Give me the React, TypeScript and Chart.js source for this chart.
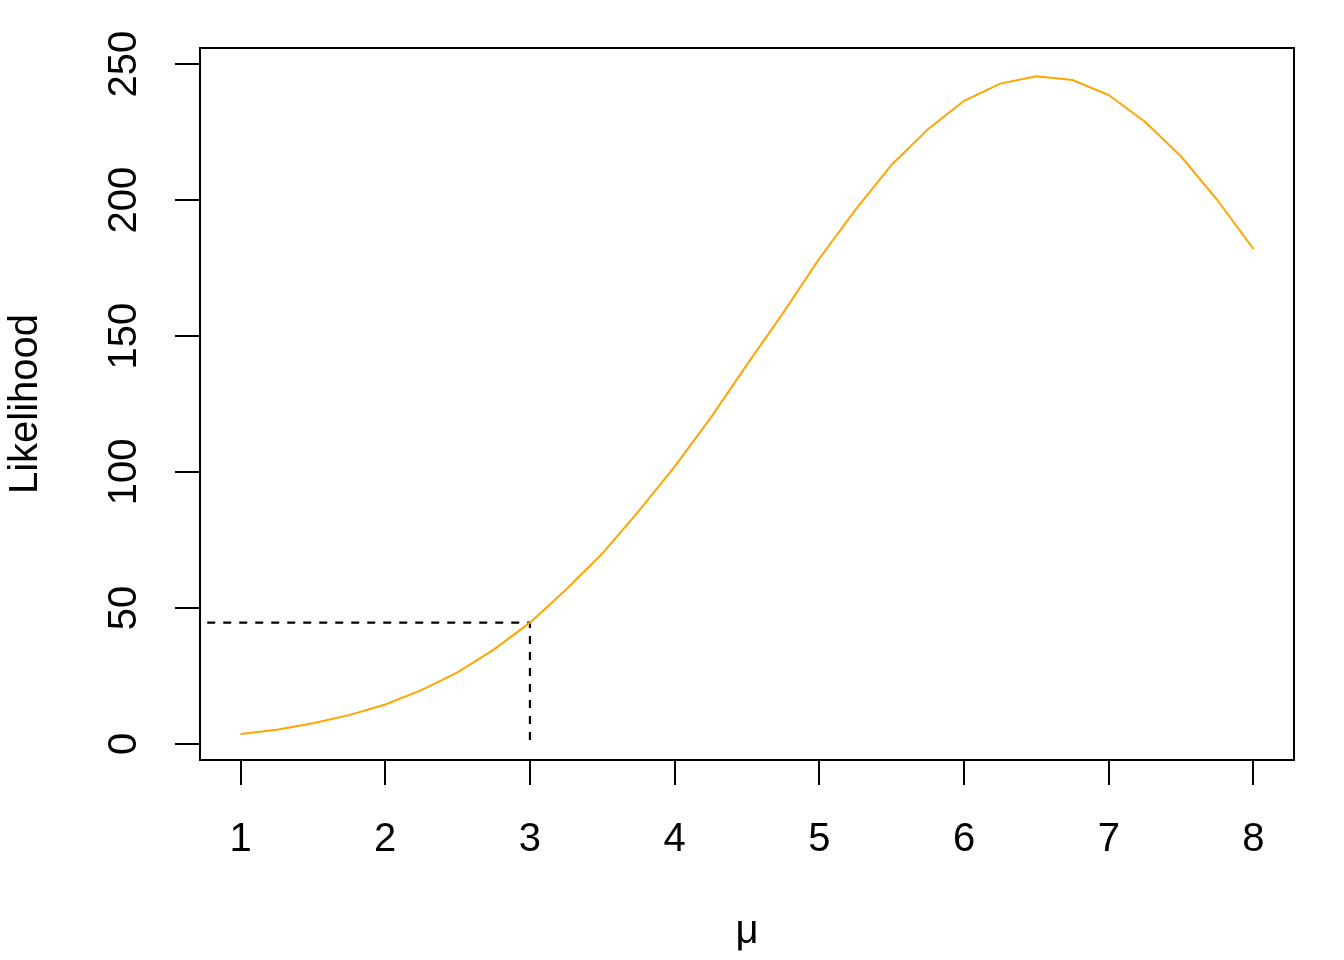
import { useEffect, useRef } from 'react';
import { Chart, registerables } from 'chart.js';

Chart.register(...registerables);

const muValues = [1, 1.25, 1.5, 1.75, 2, 2.25, 2.5, 2.75, 3, 3.25, 3.5, 3.75, 4, 4.25, 4.5, 4.75, 5, 5.25, 5.5, 5.75, 6, 6.25, 6.5, 6.75, 7, 7.25, 7.5, 7.75, 8];
const likelihood = [3.7, 5.2, 7.6, 10.6, 14.5, 19.8, 26.3, 34.7, 44.6, 56.8, 70, 85.5, 102, 120, 139.5, 158.5, 178.5, 196.5, 213, 226, 236.5, 242.8, 245.5, 244.1, 238.6, 228.8, 216, 200, 182];

// dashed guide: from the left edge to mu = 3, then down to 0
const guideMu = [0.77, 3, 3];
const guideValue = [44.6, 44.6, 0];

const xTicks = [1, 2, 3, 4, 5, 6, 7, 8];
const yTicks = [0, 50, 100, 150, 200, 250];

const FONT = 'Arial, "Liberation Sans", sans-serif';

const boxPlugin = {
    id: 'box',
    afterDatasetsDraw(chart: any) {
        const { ctx, chartArea } = chart;
        ctx.save();
        ctx.strokeStyle = '#000';
        ctx.lineWidth = 2;
        ctx.strokeRect(chartArea.left, chartArea.top, chartArea.right - chartArea.left, chartArea.bottom - chartArea.top);
        ctx.restore();
    },
};

const LikelihoodChart = () => {
    const chartRef = useRef<HTMLCanvasElement | null>(null);
    const chartInstanceRef = useRef<Chart | null>(null);

    useEffect(() => {
        document.body.style.margin = '0';
        if (chartRef.current) {
            if (chartInstanceRef.current) {
                chartInstanceRef.current.destroy();
            }

            chartInstanceRef.current = new Chart(chartRef.current, {
                type: 'line',
                data: {
                    datasets: [
                        {
                            label: 'Likelihood',
                            data: muValues.map((m, i) => ({ x: m, y: likelihood[i] })),
                            borderColor: '#FFA500',
                            borderWidth: 2,
                            pointRadius: 0,
                            tension: 0,
                            fill: false,
                        },
                        {
                            label: 'guide',
                            data: guideMu.map((m, i) => ({ x: m, y: guideValue[i] })),
                            borderColor: '#000',
                            borderWidth: 2.2,
                            borderDash: [8, 8],
                            pointRadius: 0,
                            tension: 0,
                            fill: false,
                        },
                    ],
                },
                options: {
                    animation: false,
                    responsive: false,
                    devicePixelRatio: 1,
                    layout: { padding: { top: 48, right: 50, left: 0, bottom: 0 } },
                    plugins: {
                        legend: { display: false },
                        tooltip: { enabled: false },
                    },
                    scales: {
                        x: {
                            type: 'linear',
                            min: 0.72,
                            max: 8.28,
                            afterBuildTicks: (scale: any) => {
                                scale.ticks = xTicks.map((v) => ({ value: v }));
                            },
                            afterFit: (scale: any) => {
                                scale.height = 200;
                            },
                            border: { display: false },
                            grid: {
                                drawOnChartArea: false,
                                drawTicks: true,
                                tickLength: 25,
                                lineWidth: 2,
                                color: '#000',
                            },
                            ticks: {
                                color: '#000',
                                padding: 31,
                                maxRotation: 0,
                                autoSkip: false,
                                font: { family: FONT, size: 40 },
                            },
                            title: {
                                display: true,
                                text: 'μ',
                                color: '#000',
                                font: { family: FONT, size: 40 },
                                padding: { top: 0, bottom: 4 },
                            },
                        },
                        y: {
                            type: 'linear',
                            min: -5.9,
                            max: 255.9,
                            afterBuildTicks: (scale: any) => {
                                scale.ticks = yTicks.map((v) => ({ value: v }));
                            },
                            afterFit: (scale: any) => {
                                scale.width = 200;
                            },
                            border: { display: false },
                            grid: {
                                drawOnChartArea: false,
                                drawTicks: true,
                                tickLength: 25,
                                lineWidth: 2,
                                color: '#000',
                            },
                            ticks: {
                                color: '#000',
                                padding: 17,
                                minRotation: 90,
                                maxRotation: 90,
                                crossAlign: 'center',
                                autoSkip: false,
                                font: { family: FONT, size: 40 },
                            },
                            title: {
                                display: true,
                                text: 'Likelihood',
                                color: '#000',
                                font: { family: FONT, size: 40 },
                                padding: { top: 2, bottom: 0 },
                            },
                        },
                    },
                },
                plugins: [boxPlugin],
            });
        }

        return () => {
            if (chartInstanceRef.current) {
                chartInstanceRef.current.destroy();
            }
        };
    }, []);

    return <canvas ref={chartRef} width={1344} height={960}></canvas>;
};

export default function App() {
    return (
        <div style={{ width: 1344, height: 960, background: '#fff' }}>
            <LikelihoodChart />
        </div>
    );
}
